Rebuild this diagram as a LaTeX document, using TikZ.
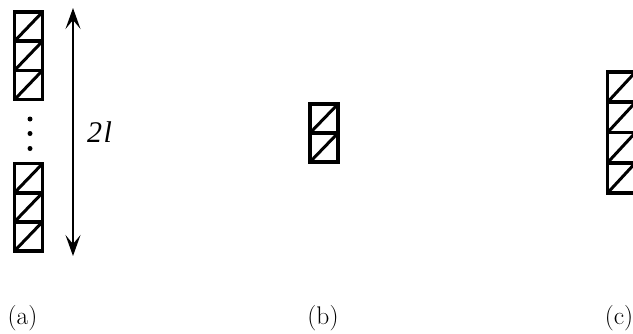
\documentclass[tikz,border=0pt]{standalone}
\usepackage{fontspec}
\newfontface\timesit{Liberation Serif Italic}
\usetikzlibrary{arrows.meta}
\tikzset{
  cellbox/.style={draw=black, line width=3.6pt, minimum width=28pt, minimum height=#1, inner sep=0pt, outer sep=0pt},
  cellbox/.default=29.2pt,
  diag/.style={line width=3pt, line cap=butt},
  dimarrow/.style={line width=2pt, {Stealth[length=21pt,width=15pt,inset=9pt]}-{Stealth[length=21pt,width=15pt,inset=9pt]}},
  dotmark/.style={circle, fill=black, inner sep=0pt, minimum size=5pt},
  caption/.style={font=\fontsize{25.5}{29}\selectfont, anchor=base, inner sep=0pt}
}
\newcommand{\cellat}[3]{%
  \node[cellbox=#3] (#1) at #2 {};
  \draw[diag] (#1.south west) -- (#1.north east);
}
\begin{document}
\begin{tikzpicture}[x=1pt,y=-1pt]
\useasboundingbox (0,0) rectangle (633,333);
% (a) column, upper group
\cellat{a1}{(28.5,26.6)}{29.2pt}
\cellat{a2}{(28.5,55.8)}{29.2pt}
\cellat{a3}{(28.5,85.0)}{29.2pt}
% dots
\node[dotmark] (d1) at (30,119) {};
\node[dotmark] (d2) at (30,133.5) {};
\node[dotmark] (d3) at (30,148.5) {};
% (a) column, lower group
\cellat{a4}{(28.5,178.2)}{29.1pt}
\cellat{a5}{(28.5,207.3)}{29.1pt}
\cellat{a6}{(28.5,236.4)}{29.1pt}
% dimension arrow
\coordinate (atop) at (73,8);
\coordinate (abot) at (73,256);
\draw[dimarrow] (atop) -- (abot);
\node[anchor=base west, inner sep=0pt, font=\timesit\fontsize{30}{33}\selectfont] (len) at (87,142) {2\kern1.5pt l};
% (b)
\cellat{b1}{(324,118.5)}{29pt}
\cellat{b2}{(324,147.5)}{29pt}
% (c)
\cellat{c1}{(621.5,87.1)}{30.25pt}
\cellat{c2}{(621.5,117.4)}{30.25pt}
\cellat{c3}{(621.5,147.6)}{30.25pt}
\cellat{c4}{(621.5,177.9)}{30.25pt}
% captions
\node[caption] (capa) at (22.5,324) {(a)};
\node[caption] (capb) at (323,324) {(b)};
\node[caption] (capc) at (619,324) {(c)};
\end{tikzpicture}
\end{document}
